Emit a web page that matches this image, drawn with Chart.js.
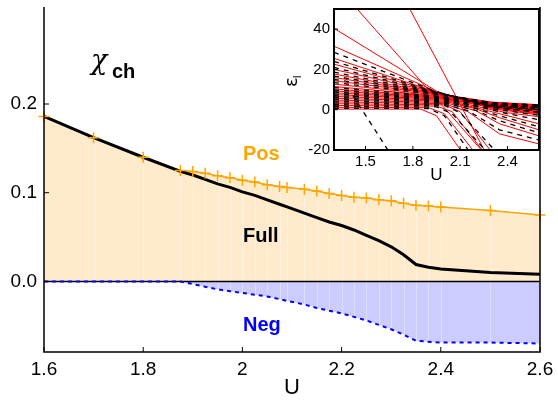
<!DOCTYPE html>
<html><head><meta charset="utf-8">
<script src="https://cdn.jsdelivr.net/npm/chart.js@4.4.1/dist/chart.umd.min.js"></script>
<style>
html,body{margin:0;padding:0;background:#fff;}
#wrap{position:relative;width:558px;height:400px;overflow:hidden;background:#fff;}
#main{position:absolute;left:0;top:0;}
#inset{position:absolute;left:270px;top:0;}
</style></head><body>
<div id="wrap"><canvas id="main" width="558" height="400"></canvas><canvas id="inset" width="288" height="200"></canvas></div>
<script>
// ---------- main chart data ----------
const U = [1.6,1.7,1.8,1.875,1.9,1.925,1.95,1.975,2.0,2.025,2.05,2.075,2.09,2.125,2.15,2.175,2.2,2.225,2.25,2.275,2.3,2.325,2.35,2.375,2.4,2.5,2.6];
const pos = [0.186,0.162,0.140,0.125,0.124,0.122,0.119,0.117,0.114,0.112,0.109,0.107,0.106,0.104,0.102,0.099,0.097,0.095,0.094,0.092,0.091,0.088,0.086,0.085,0.084,0.080,0.075];
const full = [0.186,0.162,0.140,0.124,0.120,0.115,0.110,0.106,0.101,0.097,0.092,0.087,0.084,0.077,0.072,0.067,0.063,0.058,0.052,0.046,0.039,0.030,0.019,0.016,0.014,0.010,0.008];
const neg = [0,0,0,0,-0.003,-0.006,-0.009,-0.011,-0.013,-0.015,-0.017,-0.020,-0.022,-0.026,-0.030,-0.033,-0.036,-0.040,-0.044,-0.049,-0.054,-0.060,-0.067,-0.068,-0.069,-0.069,-0.070];
const xTickVals = [1.6,1.8,2,2.2,2.4,2.6];
const xTickLabels = ['1.6','1.8','2','2.2','2.4','2.6'];
const yTickVals = [0,0.1,0.2];
const yTickLabels = ['0.0','0.1','0.2'];

// ---------- inset data: eigenvalue curves as [U, eps] breakpoints ----------
const insetXTicks = [1.5,1.8,2.1,2.4];
const insetYTicks = [-20,0,20,40];
const redLines = [
 [[1.3,0.3],[1.85,0.3],[1.95,-3],[2.12,-22]],
 [[1.3,1.2],[1.9,1.0],[2.0,-2],[2.2,-22]],
 [[1.3,2.1],[1.95,1.8],[2.05,-1],[2.25,-21]],
 [[1.3,3.0],[2.0,2.4],[2.1,-1],[2.3,-21]],
 [[1.3,3.9],[2.0,3.0],[2.15,-1],[2.35,-12],[2.6,-17]],
 [[1.3,4.8],[2.0,3.6],[2.2,-0.5],[2.35,-7],[2.6,-13]],
 [[1.3,5.7],[2.0,4.2],[2.2,0.5],[2.35,-4],[2.6,-10]],
 [[1.3,6.6],[2.0,4.7],[2.2,1],[2.35,-2],[2.6,-7]],
 [[1.3,7.5],[2.0,5.2],[2.3,0],[2.4,-1.5],[2.6,-3.5]],
 [[1.3,8.4],[2.0,5.6],[2.3,1],[2.6,-2]],
 [[1.3,9.3],[1.95,6.2],[2.3,1.8],[2.6,-0.5]],
 [[1.3,10.3],[1.95,6.6],[2.3,2.3],[2.6,0.5]],
 [[1.3,11.5],[1.95,7],[2.3,2.8],[2.6,1.5]],
 [[1.3,12.7],[1.95,7.4],[2.3,3.2],[2.6,2]],
 [[1.3,14.4],[1.95,7.8],[2.3,3.5],[2.6,2.3]],
 [[1.3,16],[1.95,8],[2.3,3.8],[2.6,2.5]],
 [[1.3,17.7],[1.95,8.2],[2.3,3],[2.6,1.5]],
 [[1.3,20],[1.95,8.5],[2.3,2.5],[2.6,0.8]],
 [[1.3,22.6],[1.95,8.7],[2.3,2],[2.6,0]],
 [[1.3,25.5],[1.95,8.8],[2.3,1.5],[2.6,-1]],
 [[1.3,31.5],[1.95,9],[2.3,1],[2.6,-1.5]],
 [[1.3,40.4],[1.95,9.2],[2.3,0.5],[2.6,-2.5]],
 [[1.3,63],[1.92,8],[2.1,-8],[2.25,-21.4]],
 [[1.7,62],[2.08,5.6],[2.25,-19.6]]
];
const blackLines = [
 [[1.42,7],[1.65,-21]],
 [[1.3,0.7],[1.9,0.6],[2.0,-3],[2.16,-21]],
 [[1.3,1.6],[1.95,1.4],[2.05,-2],[2.27,-21]],
 [[1.3,2.5],[2.0,2.1],[2.1,-1.5],[2.33,-21]],
 [[1.3,3.4],[2.0,2.7],[2.15,-0.5],[2.35,-10],[2.6,-15]],
 [[1.3,4.3],[2.0,3.3],[2.2,-0.3],[2.35,-5.5],[2.6,-11.5]],
 [[1.3,5.2],[2.0,3.9],[2.2,0.7],[2.35,-3],[2.6,-8.5]],
 [[1.3,6.1],[2.0,4.4],[2.25,0.8],[2.4,-2],[2.6,-5]],
 [[1.3,7.0],[2.0,5.0],[2.3,0.5],[2.6,-2.8]],
 [[1.3,7.9],[2.0,5.4],[2.3,1.3],[2.6,-1.2]],
 [[1.3,8.8],[1.95,6],[2.3,2],[2.6,0]],
 [[1.3,9.8],[1.95,6.4],[2.3,2.5],[2.6,1]],
 [[1.3,11],[1.95,6.8],[2.3,3],[2.6,1.8]],
 [[1.3,13.5],[1.95,7.6],[2.3,3.3],[2.6,2.2]],
 [[1.3,15],[1.95,7.9],[2.3,3.5],[2.6,2.3]],
 [[1.3,16.7],[1.95,8.1],[2.3,3.4],[2.6,2]],
 [[1.3,18.7],[1.95,8.3],[2.3,2.8],[2.6,1.2]],
 [[1.3,21],[1.95,8.6],[2.3,2.2],[2.6,0.4]],
 [[1.3,24],[1.95,8.7],[2.3,1.7],[2.6,-0.5]],
 [[1.3,28.5],[1.95,8.9],[2.3,1.2],[2.6,-1.2]]
];

const FONT = "'Liberation Sans', Arial, Helvetica, sans-serif";
const ORANGE = '#FFA500';
const pts = arr => U.map((u,i)=>({x:u,y:arr[i]}));
const noPad = s => { s.paddingTop=0; s.paddingBottom=0; s.paddingLeft=0; s.paddingRight=0; };

const mainDecor = {
  id:'mainDecor',
  beforeDatasetsDraw(chart){
    const {ctx, chartArea:a, scales:{x,y}} = chart;
    ctx.save();
    ctx.strokeStyle='rgba(255,255,255,0.35)'; ctx.lineWidth=1;
    const y0 = y.getPixelForValue(0);
    U.forEach((u,i)=>{
      const px = Math.round(x.getPixelForValue(u))+0.5;
      if(px<=a.left+1||px>=a.right-1) return;
      ctx.beginPath(); ctx.moveTo(px,y0); ctx.lineTo(px,y.getPixelForValue(pos[i])); ctx.stroke();
      if(neg[i]<0){ctx.beginPath(); ctx.moveTo(px,y0); ctx.lineTo(px,y.getPixelForValue(neg[i])); ctx.stroke();}
    });
    ctx.strokeStyle='#000'; ctx.lineWidth=1.5;
    ctx.beginPath(); ctx.moveTo(a.left,y0); ctx.lineTo(a.right,y0); ctx.stroke();
    ctx.restore();
  },
  afterDatasetsDraw(chart){
    const {ctx, chartArea:a, scales:{x,y}} = chart;
    ctx.save();
    ctx.strokeStyle='#000'; ctx.lineWidth=1.5;
    ctx.beginPath();
    ctx.moveTo(a.left,a.top); ctx.lineTo(a.left,a.bottom); ctx.lineTo(a.right,a.bottom); ctx.lineTo(a.right,a.top);
    ctx.stroke();
    ctx.lineWidth=1;
    xTickVals.forEach(v=>{const px=x.getPixelForValue(v); ctx.beginPath(); ctx.moveTo(px,a.bottom); ctx.lineTo(px,a.bottom-5); ctx.stroke();});
    yTickVals.forEach(v=>{const py=y.getPixelForValue(v); ctx.beginPath(); ctx.moveTo(a.left,py); ctx.lineTo(a.left+5,py); ctx.stroke();});
    ctx.textBaseline='alphabetic'; ctx.textAlign='left';
    ctx.fillStyle='#000';
    ctx.font="italic 27px 'DejaVu Serif', 'Liberation Serif', serif";
    ctx.fillText('χ',91,69);
    ctx.font="bold 20px "+FONT;
    ctx.fillText('ch',112,78);
    ctx.fillStyle=ORANGE; ctx.fillText('Pos',243,160);
    ctx.fillStyle='#000'; ctx.fillText('Full',243,242);
    ctx.fillStyle='#0000FF'; ctx.fillText('Neg',243,331);
    ctx.fillStyle='#000'; ctx.font="22px "+FONT; ctx.textAlign='center'; ctx.textBaseline='middle';
    ctx.fillText('U',(a.left+a.right)/2,388);
    ctx.restore();
  }
};

new Chart(document.getElementById('main'),{
  type:'line',
  data:{datasets:[
    {label:'Pos', data:pts(pos), borderColor:ORANGE, borderWidth:1.5, backgroundColor:'#FFEBCC', fill:'origin', pointRadius:0, order:3, clip:false},
    {label:'Full', data:pts(full), borderColor:'#000', borderWidth:3, fill:false, pointRadius:0, order:2},
    {label:'Neg', data:pts(neg), borderColor:'#0000FF', borderWidth:2, borderDash:[4,4], backgroundColor:'#CCCCFF', fill:'origin', pointRadius:0, order:1},
    {label:'PosMarks', data:pts(pos), showLine:false, pointStyle:'cross', pointRadius:5.5, pointBorderColor:ORANGE, pointBorderWidth:1.5, order:0, clip:false}
  ]},
  options:{
    responsive:false, animation:false, events:[],
    layout:{padding:{left:0,right:18,top:0,bottom:0}},
    plugins:{legend:{display:false},tooltip:{enabled:false},filler:{drawTime:'beforeDatasetsDraw'}},
    elements:{line:{tension:0}},
    scales:{
      x:{type:'linear',min:1.6,max:2.6,
        afterBuildTicks:s=>{s.ticks=xTickVals.map(v=>({value:v}));},
        afterFit:s=>{s.height=48; noPad(s);},
        grid:{display:false,drawTicks:false}, border:{display:false},
        ticks:{autoSkip:false,maxRotation:0,padding:6,color:'#000',font:{family:FONT,size:19},callback:(v,i)=>xTickLabels[i]}},
      y:{type:'linear',min:-0.0796,max:0.3094,
        afterBuildTicks:s=>{s.ticks=yTickVals.map(v=>({value:v}));},
        afterFit:s=>{s.width=44; noPad(s);},
        grid:{display:false,drawTicks:false}, border:{display:false},
        ticks:{autoSkip:false,padding:7,color:'#000',font:{family:FONT,size:19},callback:(v,i)=>yTickLabels[i]}}
    }
  },
  plugins:[mainDecor]
});

// ---------- inset ----------
const insetDecor = {
  id:'insetDecor',
  beforeDatasetsDraw(chart){
    const {ctx, chartArea:a} = chart;
    ctx.save(); ctx.fillStyle='#fff'; ctx.fillRect(a.left,a.top,a.right-a.left,a.bottom-a.top); ctx.restore();
  },
  afterDatasetsDraw(chart){
    const {ctx, chartArea:a, scales:{x,y}} = chart;
    ctx.save();
    ctx.strokeStyle='#000'; ctx.lineWidth=2;
    ctx.strokeRect(a.left,a.top,a.right-a.left,a.bottom-a.top);
    ctx.lineWidth=1;
    insetXTicks.forEach(v=>{const px=x.getPixelForValue(v); ctx.beginPath(); ctx.moveTo(px,a.bottom); ctx.lineTo(px,a.bottom-4); ctx.stroke();});
    insetYTicks.forEach(v=>{const py=y.getPixelForValue(v); ctx.beginPath(); ctx.moveTo(a.left,py); ctx.lineTo(a.left+4,py); ctx.stroke();});
    ctx.fillStyle='#000';
    ctx.font="17px "+FONT; ctx.textAlign='center'; ctx.textBaseline='middle';
    ctx.fillText('U',(a.left+a.right)/2,175);
    ctx.translate(22,80); ctx.rotate(-Math.PI/2);
    ctx.textAlign='left'; ctx.textBaseline='alphabetic';
    ctx.font="18px 'DejaVu Sans', "+FONT;
    ctx.fillText('ε',-7,5);
    ctx.font="11px "+FONT;
    ctx.fillText('l',2,9);
    ctx.restore();
  }
};
const insetSets = [];
redLines.forEach(l=>insetSets.push({data:l.map(p=>({x:p[0],y:p[1]})),borderColor:'#FF0000',borderWidth:1,pointRadius:0,fill:false,order:1}));
blackLines.forEach(l=>insetSets.push({data:l.map(p=>({x:p[0],y:p[1]})),borderColor:'#000',borderWidth:1.3,borderDash:[5,5],pointRadius:0,fill:false,order:0}));

new Chart(document.getElementById('inset'),{
  type:'line',
  data:{datasets:insetSets},
  options:{
    responsive:false, animation:false, events:[],
    layout:{padding:{left:0,right:19,top:9,bottom:0}},
    plugins:{legend:{display:false},tooltip:{enabled:false}},
    elements:{line:{tension:0}},
    scales:{
      x:{type:'linear',min:1.3,max:2.6,
        afterBuildTicks:s=>{s.ticks=insetXTicks.map(v=>({value:v}));},
        afterFit:s=>{s.height=50; noPad(s);},
        grid:{display:false,drawTicks:false}, border:{display:false},
        ticks:{autoSkip:false,maxRotation:0,padding:3,color:'#000',font:{family:FONT,size:15},callback:v=>String(v)}},
      y:{type:'linear',min:-20,max:50,
        afterBuildTicks:s=>{s.ticks=insetYTicks.map(v=>({value:v}));},
        afterFit:s=>{s.width=64; noPad(s);},
        grid:{display:false,drawTicks:false}, border:{display:false},
        ticks:{autoSkip:false,padding:4,color:'#000',font:{family:FONT,size:15},callback:v=>String(v)}}
    }
  },
  plugins:[insetDecor]
});
</script>
</body></html>
